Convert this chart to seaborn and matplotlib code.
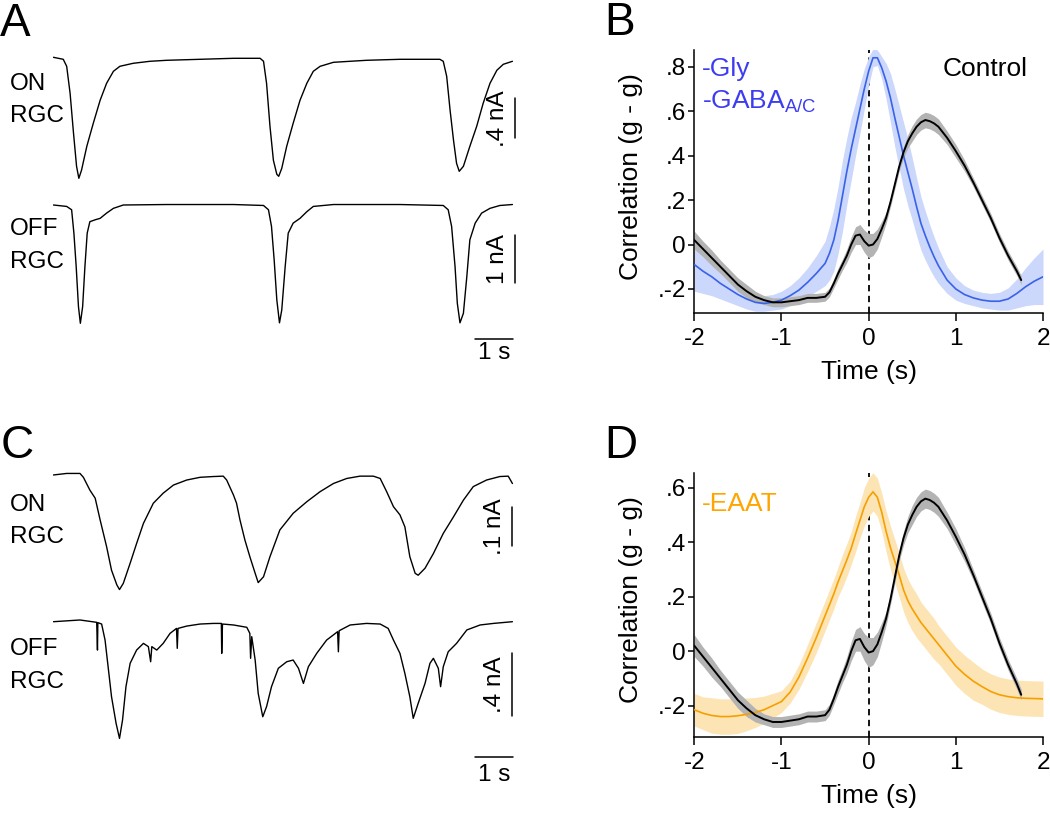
import matplotlib
matplotlib.use("Agg")
import matplotlib.pyplot as plt
import seaborn as sns
import numpy as np

# --- recorded currents (time in s, current in nA relative to baseline) ---
on_a_t = [0.01, 0.27, 0.36, 0.45, 0.54, 0.62, 0.68, 0.75, 0.89, 1.06, 1.24, 1.41, 1.59, 1.76, 2.11, 2.55, 2.99,
          3.87, 4.75, 5.45, 5.54, 5.62, 5.71, 5.80, 5.89, 5.94, 6.02, 6.15, 6.32, 6.50, 6.68, 6.85, 7.03, 7.38,
          8.25, 9.13, 10.18, 10.27, 10.36, 10.45, 10.54, 10.62, 10.69, 10.80, 10.97, 11.15, 11.32, 11.50, 11.68,
          11.85, 12.09]
on_a_i = [0.02, 0, -0.07, -0.34, -0.74, -1.07, -1.19, -1.11, -0.87, -0.64, -0.41, -0.24, -0.12, -0.07, -0.04,
          -0.02, -0.01, 0, 0.01, 0.01, -0.02, -0.24, -0.67, -1.01, -1.15, -1.17, -1.09, -0.87, -0.64, -0.41, -0.24,
          -0.12, -0.07, -0.03, -0.01, 0, 0, -0.02, -0.17, -0.51, -0.81, -1.04, -1.12, -1.07, -0.87, -0.67, -0.44,
          -0.24, -0.11, -0.05, -0.02]

off_a_t = [0.01, 0.36, 0.49, 0.55, 0.61, 0.67, 0.72, 0.78, 0.84, 0.90, 0.97, 1.11, 1.24, 1.41, 1.59, 1.85, 2.99,
           4.75, 5.54, 5.67, 5.75, 5.82, 5.89, 5.96, 6.02, 6.11, 6.19, 6.32, 6.50, 6.68, 6.85, 7.38, 9.13, 10.27,
           10.40, 10.49, 10.58, 10.64, 10.71, 10.80, 10.89, 10.97, 11.11, 11.28, 11.50, 11.76, 12.09]
off_a_i = [0, -0.03, -0.10, -0.59, -1.29, -2.13, -2.48, -2.13, -1.29, -0.59, -0.35, -0.31, -0.28, -0.17, -0.07,
           0, 0.01, 0.01, -0.01, -0.10, -0.45, -1.15, -1.99, -2.47, -2.20, -1.29, -0.59, -0.38, -0.28, -0.14,
           -0.03, 0.01, 0.01, -0.01, -0.10, -0.45, -1.29, -2.06, -2.47, -2.27, -1.50, -0.73, -0.38, -0.17, -0.07,
           -0.01, 0.01]

on_c_t = [0.01, 0.36, 0.71, 0.80, 0.97, 1.11, 1.24, 1.41, 1.54, 1.68, 1.75, 1.85, 2.03, 2.20, 2.38, 2.64, 2.90,
          3.17, 3.52, 3.87, 4.22, 4.48, 4.57, 4.75, 4.83, 4.92, 5.05, 5.18, 5.32, 5.40, 5.54, 5.71, 5.97, 6.32,
          6.68, 7.03, 7.38, 7.73, 8.08, 8.43, 8.61, 8.78, 8.96, 9.13, 9.26, 9.39, 9.53, 9.61, 9.79, 10.01, 10.27,
          10.54, 10.80, 11.06, 11.41, 11.76, 11.98, 12.09]
on_c_i = [0, 0.004, 0.004, -0.006, -0.039, -0.060, -0.116, -0.185, -0.246, -0.284, -0.296, -0.280, -0.228, -0.177,
          -0.125, -0.073, -0.047, -0.026, -0.013, -0.006, -0.004, -0.003, -0.013, -0.052, -0.073, -0.116, -0.168,
          -0.211, -0.254, -0.278, -0.263, -0.211, -0.142, -0.099, -0.069, -0.043, -0.022, -0.009, -0.003, -0.003,
          -0.009, -0.043, -0.082, -0.103, -0.134, -0.211, -0.254, -0.259, -0.241, -0.203, -0.151, -0.108, -0.065,
          -0.030, -0.013, -0.004, -0.003, -0.022]

off_c_t = [0.01, 0.71, 1.15, 1.17, 1.18, 1.28, 1.37, 1.46, 1.54, 1.66, 1.75, 1.83, 1.92, 2.03, 2.20, 2.38, 2.51,
           2.57, 2.60, 2.73, 2.90, 3.08, 3.25, 3.27, 3.29, 3.52, 3.87, 4.22, 4.43, 4.44, 4.46, 4.75, 5.10, 5.18,
           5.20, 5.23, 5.32, 5.40, 5.52, 5.62, 5.75, 5.93, 6.15, 6.32, 6.46, 6.59, 6.72, 6.94, 7.20, 7.49, 7.51,
           7.53, 7.82, 8.25, 8.61, 8.82, 8.96, 9.13, 9.26, 9.39, 9.48, 9.61, 9.79, 9.92, 10.01, 10.14, 10.20,
           10.27, 10.40, 10.62, 10.89, 11.24, 11.59, 12.09]
off_c_i = [0, 0.011, -0.004, -0.182, -0.006, -0.015, -0.118, -0.310, -0.481, -0.652, -0.749, -0.631, -0.417,
           -0.267, -0.182, -0.139, -0.160, -0.257, -0.160, -0.182, -0.139, -0.075, -0.043, -0.171, -0.043, -0.028,
           -0.015, -0.011, -0.011, -0.203, -0.015, -0.021, -0.036, -0.075, -0.235, -0.096, -0.246, -0.460, -0.610,
           -0.545, -0.417, -0.299, -0.257, -0.246, -0.299, -0.396, -0.289, -0.203, -0.118, -0.064, -0.193, -0.058,
           -0.021, -0.011, -0.015, -0.043, -0.118, -0.203, -0.332, -0.481, -0.620, -0.524, -0.396, -0.267, -0.235,
           -0.299, -0.417, -0.289, -0.193, -0.139, -0.053, -0.021, -0.011, 0]

# --- g-g correlations (lag in s) ---
lag = [-2.0, -1.9, -1.8, -1.7, -1.6, -1.5, -1.4, -1.3, -1.2, -1.1, -1.0, -0.9, -0.8, -0.7, -0.6, -0.5,
       -0.45, -0.4, -0.35, -0.3, -0.25, -0.2, -0.15, -0.1, -0.05, 0.0, 0.05, 0.1, 0.15, 0.2, 0.25, 0.3, 0.35,
       0.4, 0.45, 0.5, 0.55, 0.6, 0.65, 0.7, 0.75, 0.8, 0.9, 1.0, 1.1, 1.2, 1.3, 1.4, 1.5, 1.6, 1.7, 1.8,
       1.9, 2.0]
ctrl_lag = lag[:51] + [1.75]

ctrl = [0.02, -0.02, -0.06, -0.10, -0.14, -0.18, -0.21, -0.235, -0.25, -0.26,
        -0.26, -0.255, -0.25, -0.24, -0.24, -0.235,
        -0.215, -0.175, -0.13, -0.09, -0.05, 0.0, 0.04, 0.045, 0.015, -0.005,
        0.0, 0.025, 0.07, 0.12, 0.19, 0.27, 0.35, 0.415, 0.465, 0.50,
        0.53, 0.55, 0.56, 0.555, 0.545, 0.53,
        0.48, 0.42, 0.355, 0.28, 0.20, 0.12, 0.03, -0.05, -0.12, -0.16]
ctrl_sem = [0.04, 0.035, 0.035, 0.03, 0.03, 0.03, 0.03, 0.025, 0.02, 0.02,
            0.02, 0.02, 0.02, 0.02, 0.02, 0.02,
            0.02, 0.02, 0.025, 0.025, 0.03, 0.035, 0.04, 0.045, 0.05, 0.055,
            0.05, 0.045, 0.035, 0.025, 0.02, 0.02, 0.02, 0.025, 0.03, 0.035,
            0.035, 0.035, 0.035, 0.035, 0.035, 0.035,
            0.03, 0.03, 0.025, 0.02, 0.02, 0.02, 0.02, 0.02, 0.02, 0.02]

no_gly_gaba = [-0.09, -0.12, -0.145, -0.175, -0.20, -0.225, -0.245, -0.26, -0.265, -0.26,
               -0.25, -0.23, -0.205, -0.17, -0.13, -0.085,
               -0.04, 0.02, 0.11, 0.22, 0.33, 0.43, 0.52, 0.61, 0.70, 0.78,
               0.84, 0.84, 0.795, 0.735, 0.66, 0.57, 0.485, 0.40, 0.325, 0.25,
               0.17, 0.095, 0.04, -0.01, -0.055, -0.095,
               -0.16, -0.20, -0.225, -0.24, -0.25, -0.255, -0.255, -0.245, -0.22, -0.19, -0.165, -0.145]
no_gly_gaba_sem = [0.12, 0.10, 0.085, 0.07, 0.06, 0.05, 0.045, 0.04, 0.035, 0.035,
                   0.04, 0.045, 0.055, 0.065, 0.08, 0.10,
                   0.12, 0.14, 0.15, 0.16, 0.15, 0.14, 0.12, 0.11, 0.09, 0.065,
                   0.04, 0.035, 0.05, 0.08, 0.11, 0.13, 0.14, 0.15, 0.15, 0.14,
                   0.13, 0.12, 0.11, 0.10, 0.09, 0.08,
                   0.06, 0.05, 0.04, 0.035, 0.035, 0.035, 0.04, 0.05, 0.065, 0.085, 0.105, 0.125]

no_eaat = [-0.215, -0.228, -0.236, -0.24, -0.24, -0.237, -0.232, -0.225, -0.215, -0.20,
           -0.185, -0.15, -0.095, -0.025, 0.05, 0.13,
           0.17, 0.21, 0.255, 0.295, 0.335, 0.378, 0.43, 0.48, 0.53, 0.565,
           0.585, 0.565, 0.51, 0.44, 0.38, 0.33, 0.28, 0.225, 0.185, 0.155,
           0.13, 0.105, 0.085, 0.065, 0.045, 0.025,
           -0.015, -0.055, -0.085, -0.11, -0.13, -0.148, -0.16, -0.167, -0.171, -0.173, -0.174, -0.175]
no_eaat_sem = [0.06, 0.06, 0.065, 0.065, 0.065, 0.065, 0.06, 0.055, 0.05, 0.045,
               0.04, 0.04, 0.045, 0.05, 0.055, 0.055,
               0.055, 0.055, 0.055, 0.06, 0.06, 0.06, 0.065, 0.065, 0.07, 0.07,
               0.07, 0.07, 0.07, 0.075, 0.08, 0.08, 0.08, 0.08, 0.08, 0.08,
               0.08, 0.075, 0.075, 0.075, 0.075, 0.07,
               0.07, 0.07, 0.07, 0.07, 0.065, 0.065, 0.065, 0.065, 0.065, 0.065, 0.065, 0.065]

sns.set_theme(style="ticks")
plt.rcParams['font.family'] = ['Liberation Sans', 'DejaVu Sans']
plt.rcParams['mathtext.fontset'] = 'custom'
plt.rcParams['mathtext.rm'] = 'Liberation Sans'
plt.rcParams['mathtext.it'] = 'Liberation Sans'
plt.rcParams['axes.unicode_minus'] = False
for key in ['text.color', 'axes.labelcolor', 'xtick.color', 'ytick.color', 'axes.edgecolor']:
    plt.rcParams[key] = 'black'

W, H = 1050, 814
fig = plt.figure(figsize=(10.5, 8.14), dpi=100)


def px_axes(x0, y0, x1, y1):
    return fig.add_axes([x0 / W, 1 - y1 / H, (x1 - x0) / W, (y1 - y0) / H])


def ftext(x, y, s, size=17.5, **kw):
    fig.text(x / W, 1 - y / H, s, fontsize=size, va='baseline', ha='left', color='black', **kw)


def trace(box, t, i, ylim):
    ax = px_axes(*box)
    sns.lineplot(x=t, y=i, ax=ax, color='black', lw=1.0, estimator=None, sort=False)
    ax.set_xlim(0, 12.4)
    ax.set_ylim(*ylim)
    ax.axis('off')
    return ax


def vbar(ax, x, y0, size, label):
    ax.plot([x, x], [y0, y0 - size], color='black', lw=1.1, clip_on=False)
    ax.text(x - 0.45, y0 - size / 2, label, rotation=90, ha='center', va='center', fontsize=17.5)


def tbar(ax, y, label_y):
    ax.plot([11.1, 12.1], [y, y], color='black', lw=1.1, clip_on=False)
    ax.text(11.6, label_y, '1 s', ha='center', va='top', fontsize=17.5)


# panel A
ax = trace((53, 50, 524.2, 190), on_a_t, on_a_i, (-1.307, 0.093))
vbar(ax, 12.16, -0.39, 0.4, '.4 nA')
ax = trace((53, 195, 524.2, 365), off_a_t, off_a_i, (-3.354, 0.2096))
vbar(ax, 12.16, -0.63, 1.0, '1 nA')
tbar(ax, -2.81, -2.87)

# panel C
ax = trace((53, 465, 524.2, 600), on_c_t, on_c_i, (-0.323, 0.0258))
vbar(ax, 12.07, -0.0835, 0.1, '.1 nA')
ax = trace((53, 610, 524.2, 790), off_c_t, off_c_i, (-1.080, 0.0751))
vbar(ax, 12.07, -0.203, 0.4, '.4 nA')
tbar(ax, -0.870, -0.913)

for y_on, y_off in [(90, 235), (510.7, 655)]:
    ftext(10, y_on, 'ON')
    ftext(10, y_on + 32.5, 'RGC')
    ftext(10, y_off, 'OFF')
    ftext(10, y_off + 32.5, 'RGC')


def corr_panel(box, ylim, yticks, ylabels, drug, drug_sem, band_color, line_color):
    ax = px_axes(*box)
    ax.axvline(0, color='black', lw=1.3, ls=(0, (3.5, 2.5)), zorder=0.5)
    d, s = np.array(drug), np.array(drug_sem)
    c, cs = np.array(ctrl), np.array(ctrl_sem)
    ax.fill_between(lag, d - s, d + s, color=band_color, lw=0, zorder=1)
    ax.fill_between(ctrl_lag, c - cs, c + cs, color='#b3b3b3', lw=0, zorder=2)
    sns.lineplot(x=lag, y=drug, ax=ax, color=line_color, lw=1.2, estimator=None, zorder=3)
    sns.lineplot(x=ctrl_lag, y=ctrl, ax=ax, color='black', lw=1.4, estimator=None, zorder=4)
    ax.set_xlim(-2, 2)
    ax.set_ylim(*ylim)
    ax.set_xticks([-2, -1, 0, 1, 2])
    ax.set_xticklabels(['-2', '-1', '0', '1', '2'])
    ax.set_yticks(yticks)
    ax.set_yticklabels(ylabels)
    ax.tick_params(axis='x', length=6, width=1.1, pad=5, labelsize=17.5, direction='out', color='black')
    ax.tick_params(axis='y', length=4.5, width=1.1, pad=1.5, labelsize=17.5, direction='out', color='black')
    sns.despine(ax=ax)
    for sp in ('left', 'bottom'):
        ax.spines[sp].set_linewidth(1.1)
        ax.spines[sp].set_color('black')
    ax.set_xlabel('Time (s)', fontsize=19)
    ax.set_ylabel('Correlation (g - g)', fontsize=19)
    ax.xaxis.set_label_coords(0.5, -0.18)
    ax.yaxis.set_label_coords(-0.147, 0.52)
    return ax


axB = corr_panel((694.3, 50, 1043, 313), (-0.308, 0.875), [-0.2, 0, 0.2, 0.4, 0.6, 0.8],
                 ['.-2', '0', '.2', '.4', '.6', '.8'], no_gly_gaba, no_gly_gaba_sem, '#cbd7fb', '#3a62e8')
axB.text(0.021, 0.901, '-Gly', transform=axB.transAxes, fontsize=19, color='#3c3cf0', va='baseline')
axB.text(0.021, 0.778, r'-GABA$_{\mathrm{A/C}}$', transform=axB.transAxes, fontsize=19, color='#3c3cf0',
         va='baseline')
axB.text(0.712, 0.901, 'Control', transform=axB.transAxes, fontsize=19, color='black', va='baseline')

axD = corr_panel((694.3, 473.3, 1043, 736.7), (-0.314, 0.653), [-0.2, 0, 0.2, 0.4, 0.6],
                 ['.-2', '0', '.2', '.4', '.6'], no_eaat, no_eaat_sem, '#fde4b4', '#f5a000')
axD.text(0.021, 0.858, '-EAAT', transform=axD.transAxes, fontsize=19, color='#ffa500', va='baseline')

for x, y, s in [(0, 36, 'A'), (604, 35, 'B'), (1, 458, 'C'), (604, 458, 'D')]:
    ftext(x, y, s, size=33)

fig.savefig('out.png', dpi=100)
